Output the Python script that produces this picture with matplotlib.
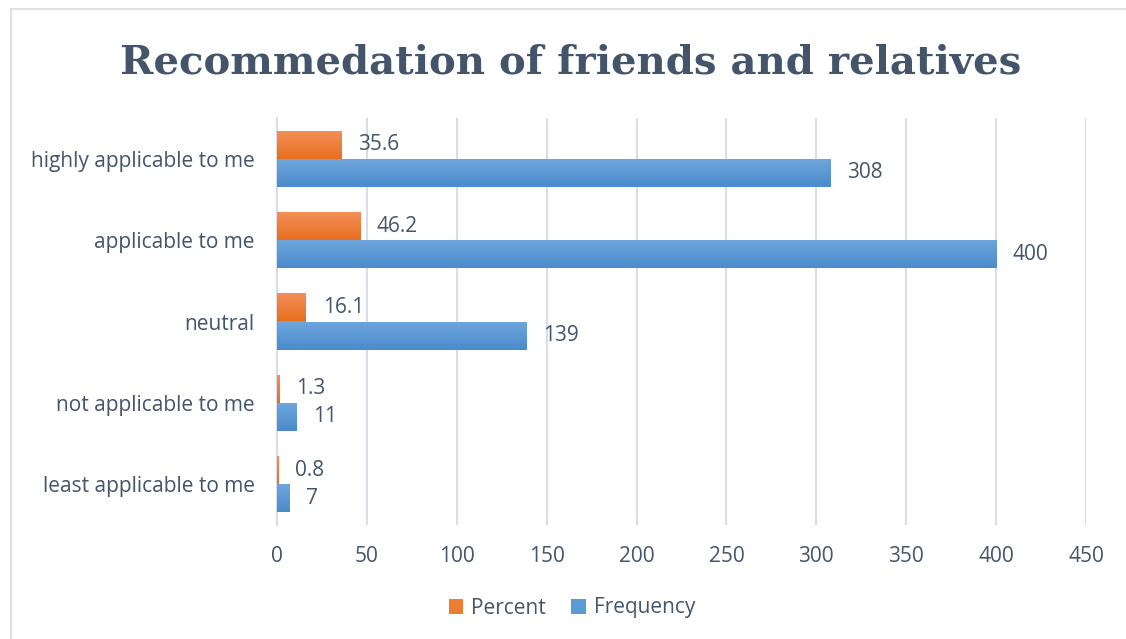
import numpy as np
import matplotlib.pyplot as plt
from matplotlib.colors import LinearSegmentedColormap

# data
categories = ["least applicable to me", "not applicable to me", "neutral",
              "applicable to me", "highly applicable to me"]
frequency = [7, 11, 139, 400, 308]
percent = [0.8, 1.3, 16.1, 46.2, 35.6]
xticks = [0, 50, 100, 150, 200, 250, 300, 350, 400, 450]

text_col = "#44546A"
grid_col = "#D9DEE6"

plt.rcParams['font.family'] = ['Open Sans', 'DejaVu Sans']

fig = plt.figure(figsize=(11.26, 6.39), dpi=100)
ax = fig.add_axes([277 / 1126, 1 - 525 / 639, (1086 - 277) / 1126, (525 - 118) / 639])

y = np.arange(len(categories))
h = 0.345
bars_f = ax.barh(y - h / 2, frequency, height=h, color="#5B9BD5", label="Frequency", zorder=3)
bars_p = ax.barh(y + h / 2, percent, height=h, color="#ED7D31", label="Percent", zorder=3)

# vertical gradient fill like the Excel style
def gradient(bars, top, bottom):
    cmap = LinearSegmentedColormap.from_list("g", [bottom, top])
    grad = np.linspace(0, 1, 64).reshape(-1, 1)
    for b in bars:
        x0, y0 = b.get_x(), b.get_y()
        im = ax.imshow(grad, cmap=cmap, aspect="auto", origin="lower",
                       extent=[x0, x0 + b.get_width(), y0, y0 + b.get_height()], zorder=3)
        im.set_clip_path(b)

gradient(bars_f, "#6FA6DD", "#4A8BCB")
gradient(bars_p, "#F4905A", "#E86E1F")

for bars, vals in [(bars_f, frequency), (bars_p, percent)]:
    for b, v in zip(bars, vals):
        ax.annotate(f"{v}", (b.get_width(), b.get_y() + b.get_height() / 2), xytext=(12, 0),
                    textcoords="offset points", va="center", ha="left", fontsize=15, color=text_col)

ax.set_xlim(0, 450)
ax.set_ylim(-0.5, len(categories) - 0.5)
ax.set_xticks(xticks)
ax.set_yticks(y)
ax.set_yticklabels(categories)
ax.tick_params(axis="both", length=0, labelsize=15, labelcolor=text_col)
ax.tick_params(axis="x", pad=15)
ax.tick_params(axis="y", pad=16)
ax.grid(axis="x", color=grid_col, linewidth=1.5, zorder=0)
for s in ["top", "right", "bottom"]:
    ax.spines[s].set_visible(False)
ax.spines["left"].set_color(grid_col)
ax.spines["left"].set_linewidth(1.5)
ax.set_autoscale_on(False)

fig.text(0.507, 1 - 62 / 639, "Recommedation of friends and relatives", ha="center", va="center",
         fontsize=29, fontweight="bold", color=text_col, family=["DejaVu Serif"])

handles, labels = ax.get_legend_handles_labels()
fig.legend(handles[::-1], labels[::-1], loc="center", bbox_to_anchor=(0.508, 1 - 608 / 639),
           ncol=2, frameon=False, fontsize=15, labelcolor=text_col, handlelength=0.7,
           handleheight=0.7, columnspacing=1.2, handletextpad=0.4)

# chart area border
fig.add_artist(plt.Line2D([11 / 1126, 11 / 1126], [0, 1 - 9 / 639], color="#D9D9D9", lw=1.2))
fig.add_artist(plt.Line2D([11 / 1126, 1], [1 - 9 / 639, 1 - 9 / 639], color="#D9D9D9", lw=1.2))

fig.savefig("out.png", dpi=100)
